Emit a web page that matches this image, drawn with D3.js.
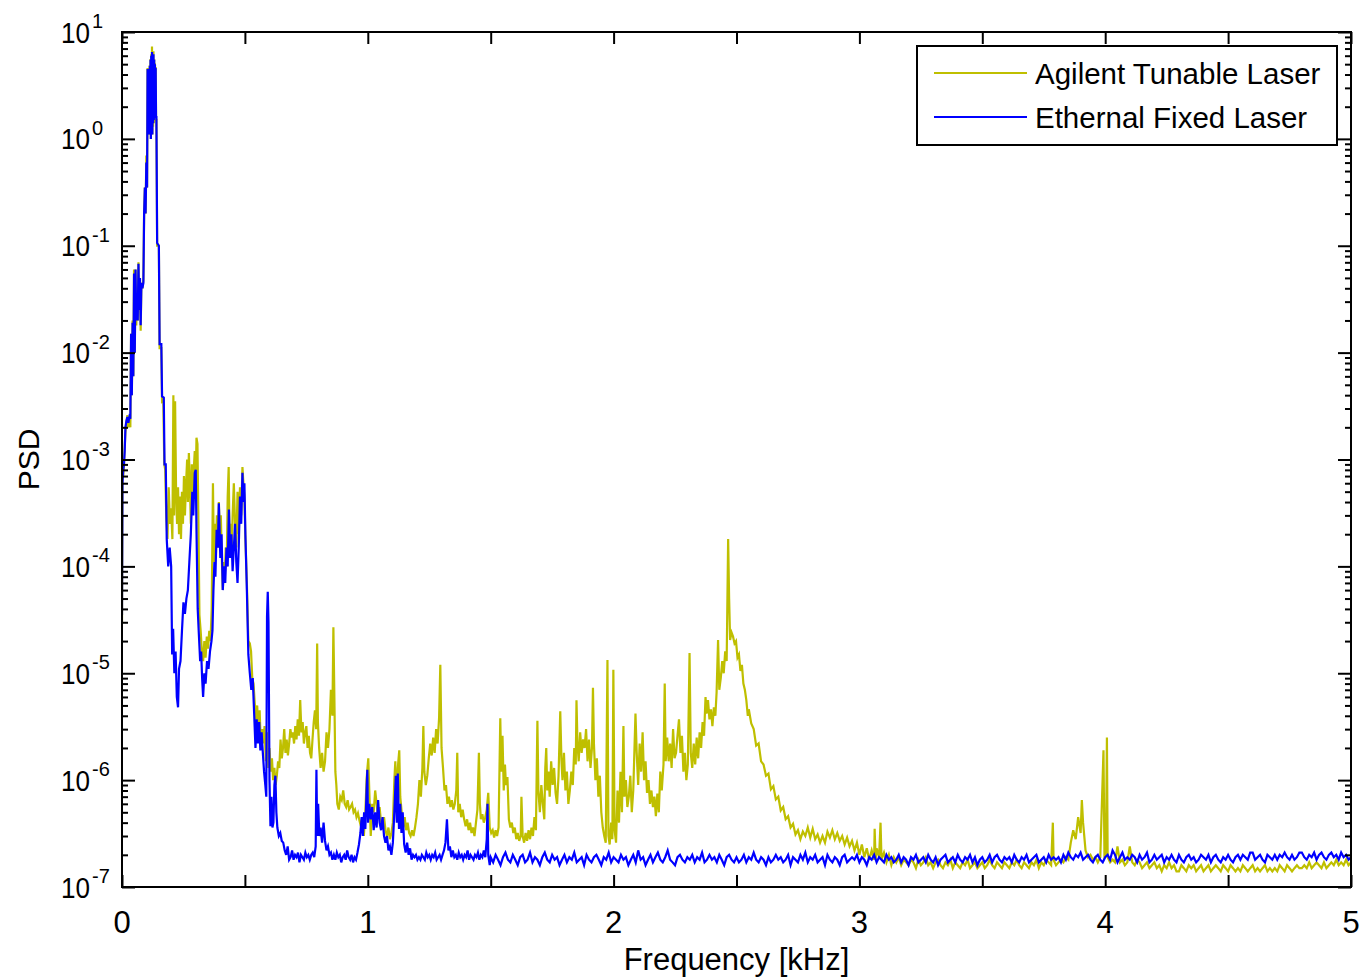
<!DOCTYPE html>
<html><head><meta charset="utf-8">
<script src="https://cdn.jsdelivr.net/npm/d3@7"></script>
<style>body{margin:0;background:#fff} svg{display:block}</style>
</head><body><svg id="chart" width="1361" height="980"></svg>
<script>
// ---------------- DATA ----------------
const seriesNames = ["Agilent Tunable Laser", "Ethernal Fixed Laser"];
const seriesColors = ["#bfbf00", "#0000ff"];
const xTickValues = [0, 0.5, 1, 1.5, 2, 2.5, 3, 3.5, 4, 4.5, 5];
const xTickLabels = ["0", "1", "2", "3", "4", "5"];
const yDecadeExponents = [1, 0, -1, -2, -3, -4, -5, -6, -7];
const xAxisTitle = "Frequency [kHz]";
const yAxisTitle = "PSD";

// Agilent Tunable Laser: [frequency kHz, PSD]
const agilentPSD = [
[0.000,3.0e-5],[0.002,8e-4],[0.005,7e-4],[0.008,9e-4],[0.011,1.3e-3],[0.014,1.8e-3],[0.018,2.2e-3],[0.022,2.6e-3],[0.026,2.0e-3],[0.030,2.5e-3],
[0.034,2.0e-3],[0.037,0.015],[0.040,0.004],[0.043,0.02],[0.046,0.006],[0.049,0.06],[0.052,0.01],[0.055,0.06],[0.058,0.018],[0.061,0.03],
[0.064,0.02],[0.067,0.07],[0.070,0.025],[0.073,0.05],[0.076,0.016],[0.079,0.045],[0.083,0.04],[0.087,0.048],[0.090,0.2],[0.093,0.35],
[0.096,0.2],[0.099,0.7],[0.102,0.35],
[0.104,4.6],[0.1055,1.4],[0.107,4.1],[0.1085,1.2],[0.110,3.9],[0.1115,1.1],[0.113,4.9],[0.1145,1.2],[0.116,5.6],[0.1175,1.0],
[0.119,6.2],[0.1205,1.1],[0.122,7.3],[0.1235,1.1],[0.125,6.4],[0.1265,1.3],[0.128,6.6],[0.1295,1.4],[0.131,5.6],[0.1325,1.5],
[0.134,5.1],[0.1355,1.6],[0.137,4.7],[0.1385,1.5],[0.140,1.5],
[0.143,0.1],[0.150,0.1],[0.153,0.011],[0.160,0.011],
[0.163,0.0035],[0.168,0.0036],[0.172,9e-4],[0.176,8e-4],[0.180,3e-4],[0.185,1.8e-4],[0.190,5.5e-4],[0.195,2.5e-4],[0.200,3.5e-4],[0.205,1.8e-4],
[0.209,4e-3],[0.212,3e-4],[0.216,3.5e-3],[0.220,5e-4],[0.224,2.5e-4],[0.228,5.5e-4],[0.232,2.0e-4],[0.236,4.5e-4],[0.240,1.8e-4],[0.244,5.0e-4],
[0.248,2.5e-4],[0.252,7e-4],[0.256,3.0e-4],[0.260,5.5e-4],[0.265,1.0e-3],[0.268,4e-4],[0.272,1.15e-3],[0.276,6e-4],[0.280,2.5e-4],[0.284,9e-4],
[0.288,5e-4],[0.292,8e-4],[0.296,1.2e-3],[0.300,6e-4],[0.303,1.6e-3],[0.307,1.4e-3],[0.311,2.5e-4],[0.315,3.5e-5],[0.320,2.5e-5],[0.325,1.6e-5],
[0.330,1.3e-5],[0.335,2.0e-5],[0.340,1.4e-5],[0.345,2.2e-5],[0.350,1.7e-5],[0.355,2.5e-5],[0.360,2.0e-5],[0.365,4.0e-5],[0.370,6e-4],[0.374,1.1e-4],
[0.378,2.5e-4],[0.382,1.3e-4],[0.386,3e-4],[0.390,1.5e-4],[0.394,4e-4],[0.398,2e-4],[0.402,3e-4],[0.406,1.2e-4],[0.410,6e-5],[0.414,1.1e-4],
[0.418,7.5e-5],[0.422,1.5e-4],[0.426,1.0e-4],[0.430,4.5e-4],[0.434,8.5e-4],[0.438,1.5e-4],[0.442,2.5e-4],[0.446,1.2e-4],[0.450,3e-4],[0.455,6e-4],
[0.460,2.5e-4],[0.465,1.5e-4],[0.470,5e-4],[0.475,2.0e-4],[0.480,5.5e-4],[0.485,3e-4],[0.490,8.5e-4],[0.494,6e-4],[0.498,4.5e-4],[0.502,1.8e-4],
[0.508,7e-5],[0.514,2.0e-5],[0.520,1.9e-5],[0.525,1.6e-5],[0.530,9e-6],[0.535,8e-6],[0.540,5.3e-6],[0.545,3.5e-6],[0.550,5e-6],[0.555,2.5e-6],
[0.560,4.5e-6],[0.565,2.0e-6],[0.570,3.0e-6],[0.575,2.2e-6],[0.580,3.2e-6],[0.585,1.5e-6],[0.590,2.8e-6],[0.595,1.3e-6],[0.600,2.0e-6],[0.605,1.2e-6],
[0.610,1.6e-6],[0.615,1.0e-6],[0.620,1.3e-6],[0.625,9e-7],[0.630,1.1e-6],[0.635,1.5e-6],[0.640,1.3e-6],[0.645,2.4e-6],[0.650,1.6e-6],[0.655,2.0e-6],
[0.660,3e-6],[0.665,1.8e-6],[0.670,2.4e-6],[0.675,1.7e-6],[0.680,2.2e-6],[0.685,3.0e-6],[0.690,2.5e-6],[0.695,2.8e-6],[0.700,2.2e-6],[0.705,3.2e-6],
[0.710,2.4e-6],[0.715,3.7e-6],[0.720,2.6e-6],[0.725,5.6e-6],[0.730,2.8e-6],[0.735,3.5e-6],[0.740,2.2e-6],[0.745,2.8e-6],[0.750,3.2e-6],[0.755,2.0e-6],
[0.760,2.6e-6],[0.765,1.8e-6],[0.770,1.6e-6],[0.775,2.4e-6],[0.780,3.5e-6],[0.785,4.5e-6],[0.790,3.0e-6],[0.794,1.9e-5],[0.797,3.5e-6],[0.802,2.0e-6],
[0.808,1.3e-6],[0.814,1.8e-6],[0.820,1.2e-6],[0.826,1.5e-6],[0.832,2.8e-6],[0.838,2.0e-6],[0.844,3.0e-6],[0.850,7e-6],[0.856,4e-6],[0.860,2.7e-5],
[0.864,6e-6],[0.868,1.2e-6],[0.872,9e-7],[0.876,6e-7],[0.882,5.3e-7],[0.888,7e-7],[0.894,6.5e-7],[0.900,8e-7],[0.906,6e-7],[0.912,5.6e-7],
[0.918,6.5e-7],[0.924,5.3e-7],[0.930,5.6e-7],[0.936,6e-7],[0.942,5.0e-7],[0.948,5.3e-7],[0.954,4.5e-7],[0.960,4.9e-7],[0.966,4.2e-7],[0.972,3.7e-7],
[0.978,4.3e-7],[0.984,3.0e-7],[0.990,5e-7],[0.995,1.0e-6],[0.998,1.25e-6],[1.002,1.6e-6],[1.006,8e-7],[1.012,3.0e-7],[1.018,6e-7],[1.024,5e-7],
[1.030,8e-7],[1.036,6e-7],[1.042,4.5e-7],[1.048,5.6e-7],[1.054,4e-7],[1.060,3.6e-7],[1.066,4.5e-7],[1.072,3.4e-7],[1.078,3.0e-7],[1.084,3.6e-7],
[1.090,2.8e-7],[1.096,3.2e-7],[1.102,4e-7],[1.108,1.0e-6],[1.112,1.5e-6],[1.116,5e-7],[1.122,1.3e-6],[1.128,1.9e-6],[1.132,7e-7],[1.138,5e-7],
[1.144,3.6e-7],[1.150,4.5e-7],[1.156,3.4e-7],[1.162,4e-7],[1.168,3.2e-7],[1.174,3.0e-7],[1.180,3.4e-7],[1.186,3.0e-7],[1.192,3.6e-7],[1.198,4.5e-7],
[1.204,6e-7],[1.210,1.0e-6],[1.216,7e-7],[1.222,1.3e-6],[1.226,3.2e-6],[1.230,1.2e-6],[1.236,9e-7],[1.242,1.1e-6],[1.248,1.6e-6],[1.254,2.2e-6],
[1.260,1.7e-6],[1.266,2.5e-6],[1.272,1.8e-6],[1.278,3.0e-6],[1.284,2.2e-6],[1.290,3.8e-6],[1.295,1.2e-5],[1.300,2.0e-6],[1.306,1.3e-6],[1.312,8e-7],
[1.318,9e-7],[1.324,6e-7],[1.330,7e-7],[1.336,5.6e-7],[1.342,6.5e-7],[1.348,5.3e-7],[1.354,6e-7],[1.360,8e-7],[1.364,1.8e-6],[1.368,5e-7],
[1.374,6e-7],[1.380,4.5e-7],[1.386,5.3e-7],[1.392,4.3e-7],[1.398,3.7e-7],[1.404,4.3e-7],[1.410,3.4e-7],[1.416,4e-7],[1.422,3.2e-7],[1.428,3.6e-7],
[1.434,3.0e-7],[1.440,4.0e-7],[1.446,5.3e-7],[1.452,1.8e-6],[1.456,6e-7],[1.460,4.3e-7],[1.466,4.8e-7],[1.472,4.0e-7],[1.478,4.5e-7],[1.484,5.3e-7],
[1.490,7.6e-7],[1.496,3.6e-7],[1.502,3.2e-7],[1.508,3.4e-7],[1.514,2.9e-7],[1.520,3.4e-7],[1.526,3.0e-7],[1.532,3.6e-7],[1.539,3.8e-6],[1.543,1.2e-6],
[1.548,2.6e-6],[1.553,8e-7],[1.558,1.4e-6],[1.562,9e-7],[1.568,1.07e-6],[1.574,4.3e-7],[1.580,3.6e-7],[1.586,4e-7],[1.592,3.2e-7],[1.598,3.6e-7],
[1.604,2.8e-7],[1.610,3.2e-7],[1.616,2.7e-7],[1.622,3.0e-7],[1.625,7e-7],[1.630,3.0e-7],[1.636,2.6e-7],[1.642,3.2e-7],[1.648,2.7e-7],[1.654,3.4e-7],
[1.660,2.8e-7],[1.666,3.6e-7],[1.672,3.0e-7],[1.678,4.5e-7],[1.684,3.4e-7],[1.690,3.6e-6],[1.694,8e-7],[1.700,5e-7],[1.706,9e-7],[1.712,6e-7],
[1.718,4.3e-7],[1.722,1.3e-6],[1.726,2.0e-6],[1.730,8e-7],[1.735,1.2e-6],[1.740,7e-7],[1.746,1.5e-6],[1.752,9e-7],[1.758,1.3e-6],[1.764,7.6e-7],
[1.770,6e-7],[1.776,1.1e-6],[1.783,4.4e-6],[1.788,1.5e-6],[1.792,1.0e-6],[1.798,1.8e-6],[1.804,8e-7],[1.810,1.2e-6],[1.816,6e-7],[1.822,8e-7],
[1.828,1.2e-6],[1.834,9e-7],[1.840,2.0e-6],[1.846,1.4e-6],[1.849,5.6e-6],[1.853,2.2e-6],[1.858,1.5e-6],[1.864,2.8e-6],[1.870,1.8e-6],[1.876,2.4e-6],
[1.882,2.0e-6],[1.888,3.0e-6],[1.894,1.5e-6],[1.900,2.4e-6],[1.906,1.3e-6],[1.912,2.0e-6],[1.916,7.3e-6],[1.920,2.2e-6],[1.926,1.0e-6],[1.932,1.6e-6],
[1.938,7e-7],[1.944,1.1e-6],[1.950,5e-7],[1.956,3.6e-7],[1.962,3.0e-7],[1.968,2.6e-7],[1.975,1.33e-5],[1.979,3.0e-7],[1.984,2.5e-7],[1.990,4e-7],
[1.995,2.8e-7],[1.999,1.08e-5],[2.004,3.4e-7],[2.010,2.6e-7],[2.016,8e-7],[2.022,4e-7],[2.028,1.2e-6],[2.034,5e-7],[2.040,3.2e-6],[2.044,7e-7],
[2.050,1.0e-6],[2.056,5.6e-7],[2.062,7e-7],[2.068,1.1e-6],[2.074,5e-7],[2.080,8e-7],[2.089,4.2e-6],[2.094,1.8e-6],[2.100,9e-7],[2.106,2.2e-6],
[2.112,1.2e-6],[2.118,2.8e-6],[2.124,1.0e-6],[2.130,1.5e-6],[2.136,7.6e-7],[2.142,1.0e-6],[2.148,6e-7],[2.154,8e-7],[2.160,5.6e-7],[2.166,7e-7],
[2.172,4.6e-7],[2.178,7.5e-7],[2.184,5e-7],[2.190,1.2e-6],[2.196,8e-7],[2.203,1.4e-6],[2.208,8e-6],[2.212,1.5e-6],[2.218,2.5e-6],[2.224,1.5e-6],
[2.230,2.2e-6],[2.236,1.3e-6],[2.242,3.0e-6],[2.248,1.6e-6],[2.254,1.8e-6],[2.260,2.6e-6],[2.266,3.7e-6],[2.272,1.8e-6],[2.278,2.6e-6],[2.284,1.2e-6],
[2.290,1.8e-6],[2.296,1.0e-6],[2.302,1.4e-6],[2.309,1.55e-5],[2.314,1.8e-6],[2.320,1.3e-6],[2.326,2.2e-6],[2.332,1.4e-6],[2.338,2.5e-6],[2.344,1.6e-6],
[2.350,2.8e-6],[2.356,2.0e-6],[2.362,3.5e-6],[2.368,2.6e-6],[2.374,6e-6],[2.378,4.2e-6],[2.384,5.6e-6],[2.390,3.7e-6],[2.396,4.6e-6],[2.402,3.2e-6],
[2.408,4.8e-6],[2.414,4e-6],[2.419,6.6e-6],[2.425,2.05e-5],[2.430,7e-6],[2.436,9e-6],[2.442,1.3e-5],[2.448,1.0e-5],[2.454,1.6e-5],[2.460,1.3e-5],
[2.466,1.8e-4],[2.470,5e-5],[2.474,2.05e-5],[2.480,2.4e-5],[2.486,2.2e-5],[2.492,1.9e-5],[2.498,2.0e-5],[2.504,1.4e-5],[2.510,1.5e-5],[2.516,1.05e-5],
[2.522,1.2e-5],[2.528,8e-6],[2.534,7e-6],[2.540,5.6e-6],[2.546,4e-6],
[2.55,4.6e-6],[2.56,3.4e-6],[2.57,3.0e-6],[2.58,2.1e-6],[2.59,2.2e-6],[2.60,1.5e-6],[2.61,1.4e-6],[2.62,1.1e-6],[2.63,1.15e-6],[2.64,8.2e-7],
[2.65,8.8e-7],[2.66,6.6e-7],[2.67,7.0e-7],[2.68,5.2e-7],[2.69,5.6e-7],[2.70,4.3e-7],[2.71,4.6e-7],[2.72,3.6e-7],[2.73,3.9e-7],[2.74,3.1e-7],
[2.75,3.4e-7],[2.76,2.8e-7],[2.77,3.3e-7],[2.78,3.0e-7],[2.79,3.6e-7],[2.80,2.9e-7],[2.81,3.5e-7],[2.82,2.8e-7],[2.83,3.1e-7],[2.84,2.6e-7],
[2.85,3.0e-7],[2.86,2.6e-7],[2.87,3.3e-7],[2.88,2.9e-7],[2.89,3.4e-7],[2.90,2.8e-7],[2.91,3.2e-7],[2.92,2.7e-7],[2.93,3.0e-7],[2.94,2.5e-7],
[2.95,2.9e-7],[2.96,2.4e-7],[2.97,2.7e-7],[2.98,2.2e-7],[2.99,2.6e-7],[3.00,2.0e-7],[3.01,2.5e-7],[3.02,1.9e-7],[3.03,2.3e-7],[3.04,1.8e-7],
[3.05,2.2e-7],[3.06,1.8e-7],[3.062,3.5e-7],[3.066,1.8e-7],[3.07,2.3e-7],[3.08,1.9e-7],[3.086,4e-7],[3.09,1.8e-7],[3.10,2.1e-7],[3.11,1.7e-7],
[3.12,2.0e-7],[3.13,1.6e-7],[3.14,1.9e-7],
[3.15,1.7e-7],[3.16,1.9e-7],[3.17,1.6e-7],[3.18,1.8e-7],[3.19,1.7e-7],
[3.20,1.6e-7],[3.21,1.8e-7],[3.22,1.7e-7],[3.23,1.5e-7],[3.24,1.8e-7],[3.25,1.6e-7],[3.26,1.7e-7],[3.27,1.9e-7],[3.28,1.6e-7],[3.29,1.7e-7],
[3.30,1.5e-7],[3.31,1.7e-7],[3.32,1.8e-7],[3.33,1.6e-7],[3.34,1.5e-7],[3.35,1.7e-7],[3.36,1.6e-7],[3.37,1.8e-7],[3.38,1.5e-7],[3.39,1.7e-7],
[3.40,1.6e-7],[3.41,1.5e-7],[3.42,1.7e-7],[3.43,1.6e-7],[3.44,1.8e-7],[3.45,1.5e-7],[3.46,1.6e-7],[3.47,1.7e-7],[3.48,1.5e-7],[3.49,1.6e-7],
[3.50,1.7e-7],[3.51,1.5e-7],[3.52,1.6e-7],[3.53,1.8e-7],[3.54,1.6e-7],[3.55,1.5e-7],[3.56,1.7e-7],[3.57,1.6e-7],[3.58,1.5e-7],[3.59,1.7e-7],
[3.60,1.6e-7],[3.61,1.5e-7],[3.62,1.7e-7],[3.63,1.6e-7],[3.64,1.8e-7],[3.65,1.6e-7],[3.66,1.5e-7],[3.67,1.7e-7],[3.68,1.6e-7],[3.69,1.5e-7],
[3.70,1.7e-7],[3.71,1.6e-7],[3.72,1.8e-7],[3.73,1.5e-7],[3.74,1.7e-7],[3.75,1.6e-7],[3.76,1.8e-7],[3.77,1.7e-7],[3.78,1.6e-7],[3.787,4.0e-7],
[3.79,1.8e-7],[3.80,1.6e-7],[3.81,1.7e-7],[3.82,1.8e-7],[3.83,1.7e-7],[3.84,1.9e-7],[3.85,1.8e-7],[3.86,2.6e-7],[3.87,3.4e-7],[3.88,2.8e-7],
[3.89,4.5e-7],[3.90,3.2e-7],[3.905,6.5e-7],[3.91,4.0e-7],[3.92,2.2e-7],[3.93,1.9e-7],[3.94,2.0e-7],[3.95,1.8e-7],[3.96,1.9e-7],[3.97,1.7e-7],
[3.98,1.9e-7],[3.993,1.9e-6],[3.997,1.9e-7],[4.003,2.0e-7],[4.007,2.5e-6],[4.01,1.9e-7],[4.02,1.7e-7],[4.03,1.8e-7],[4.04,1.7e-7],[4.05,2.4e-7],
[4.06,1.7e-7],[4.07,1.8e-7],[4.08,1.6e-7],[4.09,1.7e-7],[4.10,2.4e-7],[4.11,1.7e-7],[4.12,1.6e-7],[4.13,1.8e-7],[4.14,1.7e-7],[4.15,1.5e-7],
[4.16,1.6e-7],[4.17,1.7e-7],[4.18,1.5e-7],[4.19,1.6e-7],[4.20,1.7e-7],[4.21,1.5e-7],[4.22,1.6e-7],[4.23,1.4e-7],[4.24,1.6e-7],[4.25,1.5e-7],
[4.26,1.7e-7],[4.27,1.5e-7],[4.28,1.6e-7],[4.29,1.4e-7],[4.30,1.4e-7],[4.31,1.6e-7],[4.32,1.5e-7],[4.33,1.4e-7],[4.34,1.6e-7],[4.35,1.5e-7],
[4.36,1.6e-7],[4.37,1.4e-7],[4.38,1.5e-7],[4.39,1.6e-7],[4.40,1.4e-7],[4.41,1.5e-7],[4.42,1.6e-7],[4.43,1.4e-7],[4.44,1.5e-7],[4.45,1.6e-7],
[4.46,1.5e-7],[4.47,1.4e-7],[4.48,1.6e-7],[4.49,1.5e-7],[4.50,1.4e-7],[4.51,1.6e-7],[4.52,1.5e-7],[4.53,1.4e-7],[4.54,1.5e-7],[4.55,1.4e-7],
[4.56,1.6e-7],[4.57,1.5e-7],[4.58,1.4e-7],[4.59,1.5e-7],[4.60,1.6e-7],[4.61,1.4e-7],[4.62,1.5e-7],[4.63,1.4e-7],[4.64,1.5e-7],[4.65,1.6e-7],
[4.66,1.4e-7],[4.67,1.5e-7],[4.68,1.4e-7],[4.69,1.5e-7],[4.70,1.4e-7],[4.71,1.6e-7],[4.72,1.5e-7],[4.73,1.4e-7],[4.74,1.6e-7],[4.75,1.5e-7],
[4.76,1.4e-7],[4.77,1.5e-7],[4.78,1.6e-7],[4.79,1.5e-7],[4.80,1.5e-7],[4.81,1.6e-7],[4.82,1.5e-7],[4.83,1.7e-7],[4.84,1.5e-7],[4.85,1.6e-7],
[4.86,1.7e-7],[4.87,1.6e-7],[4.88,1.5e-7],[4.89,1.7e-7],[4.90,1.5e-7],[4.91,1.6e-7],[4.92,1.7e-7],[4.93,1.6e-7],[4.94,1.8e-7],[4.95,1.6e-7],
[4.96,1.7e-7],[4.97,1.6e-7],[4.98,1.8e-7],[4.99,1.6e-7],[5.00,1.7e-7]
];

// Ethernal Fixed Laser: [frequency kHz, PSD]
const ethernalPSD = [
[0.000,3.5e-5],[0.002,6e-4],[0.005,8e-4],[0.008,9e-4],[0.011,1.2e-3],[0.014,2.0e-3],[0.018,2.3e-3],[0.022,2.5e-3],[0.026,2.2e-3],[0.030,2.5e-3],
[0.034,2.4e-3],[0.037,0.015],[0.040,0.004],[0.043,0.019],[0.046,0.006],[0.049,0.055],[0.052,0.01],[0.055,0.06],[0.058,0.02],[0.061,0.03],
[0.064,0.02],[0.067,0.068],[0.070,0.025],[0.073,0.05],[0.076,0.018],[0.079,0.045],[0.083,0.04],[0.087,0.045],[0.090,0.2],[0.093,0.35],
[0.096,0.2],[0.099,0.6],[0.102,0.35],
[0.104,4.5],[0.1055,1.5],[0.107,4.0],[0.1085,1.3],[0.110,3.8],[0.1115,1.1],[0.113,4.8],[0.1145,1.3],[0.116,5.5],[0.1175,1.0],
[0.119,6.0],[0.1205,1.2],[0.122,6.5],[0.1235,1.1],[0.125,6.0],[0.1265,1.4],[0.128,6.2],[0.1295,1.5],[0.131,5.5],[0.1325,1.6],
[0.134,5.0],[0.1355,1.7],[0.137,4.6],[0.1385,1.6],[0.140,1.6],
[0.143,0.106],[0.150,0.1],[0.153,0.012],[0.160,0.012],
[0.163,0.0039],[0.170,0.0038],[0.173,9e-4],[0.178,9e-4],[0.182,1.8e-4],[0.188,1.0e-4],[0.194,1.5e-4],[0.200,1.0e-4],[0.204,1.5e-5],[0.208,2.6e-5],
[0.213,1.0e-5],[0.218,1.6e-5],[0.223,6e-6],[0.228,4.8e-6],[0.232,1.1e-5],[0.238,1.3e-5],[0.244,2.5e-5],[0.250,4.6e-5],[0.256,3.6e-5],[0.262,5.0e-5],
[0.268,6.0e-5],[0.274,1.1e-4],[0.280,2.0e-4],[0.286,5e-4],[0.290,3.0e-4],[0.296,7.5e-4],[0.300,8e-4],[0.303,2.2e-4],[0.308,4e-5],[0.312,2.5e-5],
[0.318,1.3e-5],[0.322,1.6e-5],[0.326,9e-6],[0.330,6e-6],[0.335,1.0e-5],[0.340,8e-6],[0.346,1.3e-5],[0.352,1.1e-5],[0.358,1.6e-5],[0.364,2.0e-5],
[0.368,2.5e-5],[0.372,6e-5],[0.376,1.1e-4],[0.380,8e-5],[0.385,2.2e-4],[0.390,1.5e-4],[0.394,3.9e-4],[0.400,1.2e-4],[0.405,2.0e-4],[0.410,6e-5],
[0.415,1.0e-4],[0.420,7e-5],[0.425,1.5e-4],[0.430,1.0e-4],[0.435,3.4e-4],[0.440,1.2e-4],[0.445,2.0e-4],[0.450,9e-5],[0.455,1.5e-4],[0.460,2.5e-4],
[0.465,1.1e-4],[0.470,7e-5],[0.475,1.5e-4],[0.480,4.5e-4],[0.485,2.5e-4],[0.490,7.5e-4],[0.494,4.0e-4],[0.498,6.0e-4],[0.502,2.0e-4],[0.508,6e-5],
[0.514,1.5e-5],[0.520,1.0e-5],[0.526,7e-6],[0.532,9e-6],[0.538,4e-6],[0.543,2.0e-6],[0.548,3.7e-6],[0.553,2.2e-6],[0.558,3.5e-6],[0.563,1.9e-6],
[0.568,2.8e-6],[0.573,1.8e-6],[0.578,1.2e-6],[0.583,9e-7],[0.587,7e-7],[0.590,3.4e-5],[0.593,5.8e-5],[0.596,3.0e-5],[0.600,1.0e-6],[0.604,3.7e-7],
[0.608,7e-7],[0.612,3.6e-7],[0.616,4e-7],[0.620,9e-7],[0.624,1.1e-6],[0.628,5e-7],[0.632,3.6e-7],[0.638,3.0e-7],[0.644,3.2e-7],[0.650,2.7e-7],
[0.656,2.6e-7],[0.662,2.2e-7],[0.668,2.0e-7],[0.674,2.4e-7],[0.680,1.8e-7],[0.686,1.9e-7],[0.692,2.2e-7],[0.698,1.8e-7],[0.704,2.0e-7],[0.710,1.9e-7],
[0.716,2.1e-7],[0.722,1.7e-7],[0.728,2.0e-7],[0.734,1.9e-7],[0.740,1.8e-7],[0.746,2.1e-7],[0.752,1.9e-7],[0.758,2.0e-7],[0.764,1.8e-7],[0.770,2.0e-7],
[0.776,2.1e-7],[0.782,1.9e-7],[0.788,2.4e-7],[0.791,1.25e-6],[0.794,3.0e-7],[0.798,6e-7],[0.803,3.0e-7],[0.808,3.6e-7],[0.814,2.6e-7],[0.820,4e-7],
[0.826,2.7e-7],[0.832,2.2e-7],[0.838,2.4e-7],[0.844,2.0e-7],[0.850,2.1e-7],[0.856,1.8e-7],[0.862,2.0e-7],[0.868,1.8e-7],[0.874,2.1e-7],[0.880,1.9e-7],
[0.886,2.0e-7],[0.892,1.7e-7],[0.898,1.9e-7],[0.904,2.0e-7],[0.910,1.8e-7],[0.916,2.2e-7],[0.922,1.9e-7],[0.928,1.8e-7],[0.934,2.0e-7],[0.940,1.7e-7],
[0.946,1.9e-7],[0.952,1.8e-7],[0.958,2.1e-7],[0.964,2.5e-7],[0.970,3.2e-7],[0.975,4.5e-7],[0.980,3.0e-7],[0.985,5e-7],[0.990,3.5e-7],[0.995,8e-7],
[0.998,1.25e-6],[1.001,4e-7],[1.006,6e-7],[1.012,4.3e-7],[1.018,5.6e-7],[1.024,3.4e-7],[1.030,5e-7],[1.036,3.6e-7],[1.042,6.5e-7],[1.048,4e-7],
[1.054,3.4e-7],[1.060,4.5e-7],[1.066,3.0e-7],[1.072,2.6e-7],[1.078,3.0e-7],[1.084,2.2e-7],[1.090,2.4e-7],[1.096,2.0e-7],[1.102,2.6e-7],[1.108,5e-7],
[1.114,1.1e-6],[1.118,4e-7],[1.122,1.15e-6],[1.127,3.5e-7],[1.132,6e-7],[1.137,3.2e-7],[1.142,5e-7],[1.148,2.5e-7],[1.154,2.1e-7],[1.160,2.6e-7],
[1.166,2.0e-7],[1.172,2.3e-7],[1.178,1.8e-7],[1.184,2.0e-7],[1.190,1.9e-7],[1.196,2.0e-7],[1.202,1.8e-7],[1.208,1.9e-7],[1.214,1.8e-7],[1.220,2.0e-7],
[1.226,1.9e-7],[1.232,1.8e-7],[1.238,2.1e-7],[1.244,1.9e-7],[1.250,2.0e-7],[1.256,1.8e-7],[1.262,2.0e-7],[1.268,1.9e-7],[1.274,2.1e-7],[1.280,1.8e-7],
[1.286,1.9e-7],[1.292,2.0e-7],[1.298,1.8e-7],[1.304,2.0e-7],[1.310,2.2e-7],[1.316,2.6e-7],[1.322,4.3e-7],[1.328,2.2e-7],[1.334,2.4e-7],[1.340,1.9e-7],
[1.346,2.2e-7],[1.352,1.9e-7],[1.358,2.0e-7],[1.364,1.8e-7],[1.370,2.1e-7],[1.376,1.9e-7],[1.382,2.0e-7],[1.388,1.8e-7],[1.394,2.0e-7],[1.400,1.9e-7],
[1.406,2.2e-7],[1.412,1.8e-7],[1.418,2.0e-7],[1.424,1.9e-7],[1.430,1.8e-7],[1.436,2.0e-7],[1.442,1.9e-7],[1.448,2.1e-7],[1.454,1.8e-7],[1.460,2.0e-7],
[1.466,1.9e-7],[1.472,2.2e-7],[1.478,1.9e-7],[1.484,2.8e-7],[1.487,6e-7],[1.490,2.0e-7],[1.496,1.6e-7],
[1.50,1.9e-7],[1.51,1.7e-7],[1.52,2.0e-7],[1.53,1.8e-7],[1.54,1.6e-7],[1.55,1.9e-7],[1.56,2.1e-7],[1.57,1.8e-7],[1.58,1.7e-7],[1.59,2.0e-7],
[1.60,1.8e-7],[1.61,1.6e-7],[1.62,1.9e-7],[1.63,2.0e-7],[1.64,1.7e-7],[1.65,1.8e-7],[1.66,2.1e-7],[1.67,1.7e-7],[1.68,1.9e-7],[1.69,1.8e-7],
[1.70,1.6e-7],[1.71,1.9e-7],[1.72,2.1e-7],[1.73,1.8e-7],[1.74,1.7e-7],[1.75,2.0e-7],[1.76,1.8e-7],[1.77,1.9e-7],[1.78,1.6e-7],[1.79,1.8e-7],
[1.80,2.0e-7],[1.81,1.7e-7],[1.82,1.9e-7],[1.83,1.8e-7],[1.84,2.1e-7],[1.85,1.7e-7],[1.86,1.8e-7],[1.87,1.9e-7],[1.88,1.6e-7],[1.89,2.0e-7],
[1.90,1.8e-7],[1.91,1.7e-7],[1.92,1.9e-7],[1.93,2.0e-7],[1.94,1.8e-7],[1.95,1.6e-7],[1.96,1.9e-7],[1.97,1.8e-7],[1.98,2.1e-7],[1.99,1.7e-7],
[2.00,1.9e-7],[2.01,1.8e-7],[2.02,1.7e-7],[2.03,2.0e-7],[2.04,1.8e-7],[2.05,1.9e-7],[2.06,1.6e-7],[2.07,1.8e-7],[2.08,2.0e-7],[2.09,1.7e-7],
[2.10,2.2e-7],[2.11,1.8e-7],[2.12,1.9e-7],[2.13,1.6e-7],[2.14,1.8e-7],[2.15,2.0e-7],[2.16,1.7e-7],[2.17,1.9e-7],[2.18,2.1e-7],[2.19,1.8e-7],
[2.20,1.7e-7],[2.21,1.9e-7],[2.22,2.2e-7],[2.23,1.8e-7],[2.24,1.7e-7],[2.25,1.6e-7],[2.26,1.9e-7],[2.27,2.0e-7],[2.28,1.8e-7],[2.29,1.7e-7],
[2.30,1.9e-7],[2.31,1.8e-7],[2.32,2.0e-7],[2.33,1.7e-7],[2.34,1.9e-7],[2.35,1.8e-7],[2.36,2.1e-7],[2.37,1.7e-7],[2.38,1.8e-7],[2.39,2.0e-7],
[2.40,1.8e-7],[2.41,1.9e-7],[2.42,1.7e-7],[2.43,2.0e-7],[2.44,1.8e-7],[2.45,1.6e-7],[2.46,1.9e-7],[2.47,2.0e-7],[2.48,1.8e-7],[2.49,1.7e-7],
[2.50,1.9e-7],[2.51,1.7e-7],[2.52,1.8e-7],[2.53,2.0e-7],[2.54,1.7e-7],[2.55,1.9e-7],[2.56,1.8e-7],[2.57,2.1e-7],[2.58,1.8e-7],[2.59,1.7e-7],
[2.60,1.9e-7],[2.61,1.8e-7],[2.62,1.6e-7],[2.63,1.9e-7],[2.64,1.7e-7],[2.65,1.8e-7],[2.66,2.0e-7],[2.67,1.8e-7],[2.68,1.9e-7],[2.69,1.7e-7],
[2.70,1.8e-7],[2.71,2.0e-7],[2.72,1.6e-7],[2.73,1.9e-7],[2.74,1.8e-7],[2.75,1.7e-7],[2.76,2.0e-7],[2.77,1.8e-7],[2.78,2.1e-7],[2.79,1.7e-7],
[2.80,1.9e-7],[2.81,1.8e-7],[2.82,2.0e-7],[2.83,1.7e-7],[2.84,1.8e-7],[2.85,1.9e-7],[2.86,1.6e-7],[2.87,2.0e-7],[2.88,1.8e-7],[2.89,1.7e-7],
[2.90,1.9e-7],[2.91,1.8e-7],[2.92,1.6e-7],[2.93,1.9e-7],[2.94,2.0e-7],[2.95,1.7e-7],[2.96,1.8e-7],[2.97,1.9e-7],[2.98,1.8e-7],[2.99,2.0e-7],
[3.00,1.7e-7],[3.01,1.9e-7],[3.02,1.8e-7],[3.03,1.6e-7],[3.04,1.9e-7],[3.05,1.8e-7],[3.06,2.0e-7],[3.07,1.7e-7],[3.08,1.9e-7],[3.09,1.8e-7],
[3.10,1.7e-7],[3.11,2.0e-7],[3.12,1.8e-7],[3.13,1.9e-7],[3.14,1.7e-7],[3.15,1.8e-7],[3.16,2.0e-7],[3.17,1.7e-7],[3.18,1.9e-7],[3.19,1.8e-7],
[3.20,1.6e-7],[3.21,1.9e-7],[3.22,1.8e-7],[3.23,2.0e-7],[3.24,1.7e-7],[3.25,1.8e-7],[3.26,1.9e-7],[3.27,1.7e-7],[3.28,2.0e-7],[3.29,1.8e-7],
[3.30,1.7e-7],[3.31,1.9e-7],[3.32,1.6e-7],[3.33,1.8e-7],[3.34,1.9e-7],[3.35,2.0e-7],[3.36,1.7e-7],[3.37,1.8e-7],[3.38,1.9e-7],[3.39,1.7e-7],
[3.40,2.0e-7],[3.41,1.8e-7],[3.42,1.7e-7],[3.43,1.9e-7],[3.44,1.8e-7],[3.45,2.0e-7],[3.46,1.7e-7],[3.47,1.9e-7],[3.48,1.6e-7],[3.49,1.8e-7],
[3.50,1.9e-7],[3.51,1.7e-7],[3.52,1.8e-7],[3.53,2.0e-7],[3.54,1.7e-7],[3.55,1.9e-7],[3.56,2.0e-7],[3.57,1.8e-7],[3.58,1.7e-7],[3.59,1.9e-7],
[3.60,1.8e-7],[3.61,1.9e-7],[3.62,1.7e-7],[3.63,2.0e-7],[3.64,1.8e-7],[3.65,1.7e-7],[3.66,1.9e-7],[3.67,1.8e-7],[3.68,2.0e-7],[3.69,1.7e-7],
[3.70,1.8e-7],[3.71,1.9e-7],[3.72,2.0e-7],[3.73,1.7e-7],[3.74,1.8e-7],[3.75,1.9e-7],[3.76,1.7e-7],[3.77,2.0e-7],[3.78,1.8e-7],[3.79,1.9e-7],
[3.80,1.8e-7],[3.81,1.9e-7],[3.82,1.7e-7],[3.83,2.0e-7],[3.84,1.8e-7],[3.85,2.1e-7],[3.86,1.9e-7],[3.87,1.8e-7],[3.88,2.0e-7],[3.89,1.9e-7],
[3.90,2.1e-7],[3.91,1.8e-7],[3.92,1.9e-7],[3.93,2.0e-7],[3.94,1.8e-7],[3.95,1.7e-7],[3.96,1.9e-7],[3.97,2.0e-7],[3.98,1.8e-7],[3.99,1.7e-7],
[4.00,1.9e-7],[4.01,2.0e-7],[4.02,1.8e-7],[4.03,2.2e-7],[4.04,2.0e-7],[4.05,1.7e-7],[4.06,1.9e-7],[4.07,2.1e-7],[4.08,1.8e-7],[4.09,1.9e-7],
[4.10,1.8e-7],[4.11,2.0e-7],[4.12,1.9e-7],[4.13,1.7e-7],[4.14,2.0e-7],[4.15,1.8e-7],[4.16,1.9e-7],[4.17,2.1e-7],[4.18,1.7e-7],[4.19,1.8e-7],
[4.20,2.0e-7],[4.21,1.8e-7],[4.22,1.9e-7],[4.23,2.0e-7],[4.24,1.7e-7],[4.25,1.9e-7],[4.26,1.8e-7],[4.27,2.0e-7],[4.28,1.8e-7],[4.29,1.7e-7],
[4.30,2.0e-7],[4.31,1.8e-7],[4.32,1.7e-7],[4.33,1.9e-7],[4.34,2.0e-7],[4.35,1.8e-7],[4.36,1.9e-7],[4.37,1.7e-7],[4.38,1.8e-7],[4.39,2.0e-7],
[4.40,1.9e-7],[4.41,1.8e-7],[4.42,2.0e-7],[4.43,1.7e-7],[4.44,1.9e-7],[4.45,2.0e-7],[4.46,1.8e-7],[4.47,1.7e-7],[4.48,1.9e-7],[4.49,1.8e-7],
[4.50,2.0e-7],[4.51,1.8e-7],[4.52,1.7e-7],[4.53,1.9e-7],[4.54,2.0e-7],[4.55,1.8e-7],[4.56,2.0e-7],[4.57,1.9e-7],[4.58,1.8e-7],[4.59,2.1e-7],
[4.60,2.1e-7],[4.61,1.8e-7],[4.62,1.9e-7],[4.63,2.0e-7],[4.64,1.8e-7],[4.65,1.7e-7],[4.66,2.0e-7],[4.67,1.9e-7],[4.68,1.8e-7],[4.69,2.0e-7],
[4.70,1.8e-7],[4.71,2.0e-7],[4.72,1.9e-7],[4.73,2.1e-7],[4.74,1.9e-7],[4.75,1.8e-7],[4.76,2.0e-7],[4.77,1.8e-7],[4.78,1.9e-7],[4.79,2.1e-7],
[4.80,2.1e-7],[4.81,1.9e-7],[4.82,1.8e-7],[4.83,2.0e-7],[4.84,1.9e-7],[4.85,2.1e-7],[4.86,1.8e-7],[4.87,2.0e-7],[4.88,2.1e-7],[4.89,1.9e-7],
[4.90,1.8e-7],[4.91,2.0e-7],[4.92,2.1e-7],[4.93,1.9e-7],[4.94,2.0e-7],[4.95,1.8e-7],[4.96,2.1e-7],[4.97,1.9e-7],[4.98,2.0e-7],[4.99,1.8e-7],
[5.00,1.9e-7]
];

// ---------------- DRAWING ----------------
const W = 1361, H = 980;
const plot = {left: 122, top: 32, right: 1351, bottom: 887};
const svg = d3.select("#chart");
const FONT = "Arial, 'Liberation Sans', Helvetica, sans-serif";

const x = d3.scaleLinear().domain([0, 5]).range([plot.left, plot.right]);
const y = d3.scaleLog().domain([1e-7, 10]).range([plot.bottom, plot.top]);

svg.append("rect").attr("width", W).attr("height", H).attr("fill", "#fff");

svg.append("defs").append("clipPath").attr("id", "clip")
  .append("rect").attr("x", plot.left).attr("y", plot.top)
  .attr("width", plot.right - plot.left).attr("height", plot.bottom - plot.top);

// data lines
const line = d3.line().x(d => x(d[0])).y(d => y(d[1]));
const seriesData = [agilentPSD, ethernalPSD];
const gLines = svg.append("g").attr("clip-path", "url(#clip)");
seriesData.forEach((data, i) => {
  gLines.append("path").datum(data)
    .attr("d", line).attr("fill", "none")
    .attr("stroke", seriesColors[i]).attr("stroke-width", 2.2)
    .attr("stroke-linejoin", "miter");
});

// axes box
svg.append("rect")
  .attr("x", plot.left).attr("y", plot.top)
  .attr("width", plot.right - plot.left).attr("height", plot.bottom - plot.top)
  .attr("fill", "none").attr("stroke", "#000").attr("stroke-width", 2);

// x ticks (bottom and top, inward)
const majorLen = 12, minorLen = 6;
const axBottom = d3.axisBottom(x).tickValues(xTickValues).tickSize(-majorLen).tickSizeOuter(0).tickFormat("");
const axTop = d3.axisTop(x).tickValues(xTickValues).tickSize(-majorLen).tickSizeOuter(0).tickFormat("");
svg.append("g").attr("transform", `translate(0,${plot.bottom})`).call(axBottom)
  .call(g => g.select(".domain").remove())
  .call(g => g.selectAll("line").attr("stroke", "#000").attr("stroke-width", 2));
svg.append("g").attr("transform", `translate(0,${plot.top})`).call(axTop)
  .call(g => g.select(".domain").remove())
  .call(g => g.selectAll("line").attr("stroke", "#000").attr("stroke-width", 2));

// x tick labels at integers
xTickLabels.forEach(lbl => {
  svg.append("text").attr("x", x(+lbl)).attr("y", plot.bottom + 46)
    .attr("text-anchor", "middle").attr("font-family", FONT).attr("font-size", 31)
    .attr("fill", "#000").text(lbl);
});

// y ticks: majors at decades, minors at 2..9
const majorVals = yDecadeExponents.map(e => Math.pow(10, e));
const minorVals = [];
yDecadeExponents.slice(1).forEach(e => {
  for (let m = 2; m <= 9; m++) minorVals.push(m * Math.pow(10, e));
});
function yTicks(vals, len) {
  svg.append("g").attr("transform", `translate(${plot.left},0)`)
    .call(d3.axisLeft(y).tickValues(vals).tickSize(-len).tickSizeOuter(0).tickFormat(""))
    .call(g => g.select(".domain").remove())
    .call(g => g.selectAll("line").attr("stroke", "#000").attr("stroke-width", 2));
  svg.append("g").attr("transform", `translate(${plot.right},0)`)
    .call(d3.axisRight(y).tickValues(vals).tickSize(-len).tickSizeOuter(0).tickFormat(""))
    .call(g => g.select(".domain").remove())
    .call(g => g.selectAll("line").attr("stroke", "#000").attr("stroke-width", 2));
}
yTicks(majorVals, 13);
yTicks(minorVals, minorLen);

// y tick labels 10^e
yDecadeExponents.forEach(e => {
  const yy = y(Math.pow(10, e));
  svg.append("text").attr("x", 90).attr("y", yy + 10.5)
    .attr("text-anchor", "end").attr("font-family", FONT).attr("font-size", 29)
    .attr("textLength", 29).attr("lengthAdjust", "spacingAndGlyphs")
    .attr("fill", "#000").text("10");
  svg.append("text").attr("x", 92).attr("y", yy - 4)
    .attr("text-anchor", "start").attr("font-family", FONT).attr("font-size", 20)
    .attr("fill", "#000").text(String(e));
});

// axis titles
svg.append("text").attr("x", (plot.left + plot.right) / 2).attr("y", 970)
  .attr("text-anchor", "middle").attr("font-family", FONT).attr("font-size", 31)
  .attr("fill", "#000").text(xAxisTitle);
svg.append("text")
  .attr("transform", `translate(39,${(plot.top + plot.bottom) / 2}) rotate(-90)`)
  .attr("text-anchor", "middle").attr("font-family", FONT).attr("font-size", 30)
  .attr("fill", "#000").text(yAxisTitle);

// legend
const lg = {x: 917, y: 46, w: 420, h: 99};
svg.append("rect").attr("x", lg.x).attr("y", lg.y).attr("width", lg.w).attr("height", lg.h)
  .attr("fill", "#fff").attr("stroke", "#000").attr("stroke-width", 2);
seriesNames.forEach((name, i) => {
  const cy = lg.y + 27 + i * 44;
  svg.append("line").attr("x1", lg.x + 17).attr("x2", lg.x + 110).attr("y1", cy).attr("y2", cy)
    .attr("stroke", seriesColors[i]).attr("stroke-width", 2);
  svg.append("text").attr("x", lg.x + 118).attr("y", cy + 11)
    .attr("font-family", FONT).attr("font-size", 29.5).attr("fill", "#000").text(name);
});
</script>
</body></html>
